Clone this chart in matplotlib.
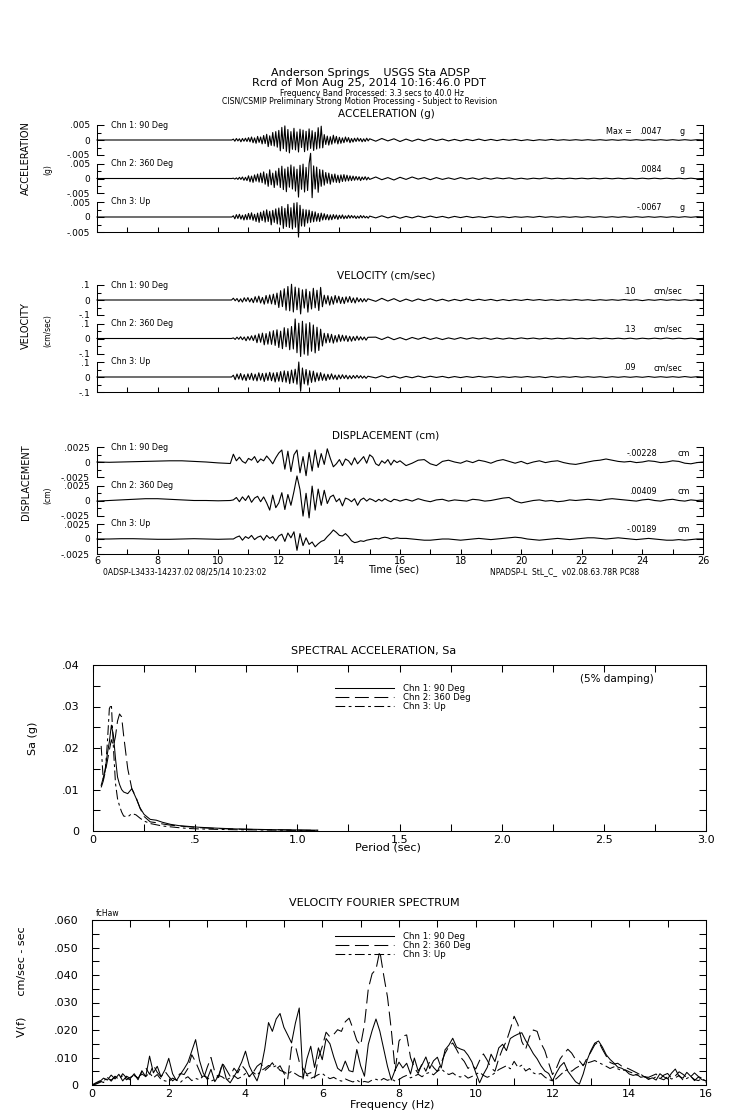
import numpy as np
import matplotlib.pyplot as plt
from matplotlib.ticker import MultipleLocator, FixedLocator
from matplotlib.lines import Line2D

plt.rcParams['font.family'] = ['DejaVu Sans']
plt.rcParams['axes.linewidth'] = 0.75
plt.rcParams['lines.scale_dashes'] = False

# ---------------- data ----------------
channels = ["Chn 1: 90 Deg", "Chn 2: 360 Deg", "Chn 3: Up"]

# acceleration, units of 0.001 g
acc_t_pre = [6.0, 10.45]
acc_t_act = 10.5 + 0.05 * np.arange(91)
acc_t_tail = 15.2 + 0.2 * np.arange(55)
acc_pre = [0.0, 0.0]
acc1_act = [0.3,-0.4,0.5,-0.3,0.4,-0.6,0.5,-0.4,0.6,-0.5,
            0.8,-0.6,1.0,-0.9,0.7,-1.1,1.2,-0.8,1.0,-1.3,
            1.5,-1.2,1.9,-2.2,1.4,-1.8,2.5,-2.0,2.8,-2.4,
            3.2,-3.6,4.2,-2.9,4.7,-3.8,3.5,-4.3,2.8,-3.1,
            3.9,-3.3,2.7,-4.0,3.6,-2.5,3.3,-3.9,2.9,-3.4,
            3.7,-2.8,3.1,-3.5,2.6,-3.0,4.1,-2.7,4.6,-2.6,
            1.8,-1.5,1.3,-1.7,1.1,-1.4,1.6,-1.0,1.2,-1.3,
            0.9,-1.1,0.7,-0.9,1.0,-0.6,0.8,-0.9,0.5,-0.7,
            0.6,-0.5,0.7,-0.4,0.5,-0.6,0.4,-0.5,0.6,-0.3,0.4]
acc2_act = [0.1,-0.2,0.2,-0.3,0.4,-0.3,0.5,-0.6,0.4,-0.7,
            0.9,-1.1,0.8,-1.3,1.2,-0.9,1.5,-1.2,1.8,-1.4,
            2.2,-1.9,1.6,-2.6,2.9,-2.1,1.8,-3.0,2.5,-2.2,
            3.4,-3.0,4.1,-3.7,3.2,-4.4,3.8,-2.9,4.5,-3.5,
            3.9,-4.2,3.1,-6.2,4.4,-3.6,4.8,-4.5,3.7,-4.0,
            5.0,8.4,-6.4,4.2,-3.5,3.8,-4.6,3.0,-2.6,2.8,
            -2.2,2.0,-1.6,1.8,-1.9,1.4,-1.2,1.5,-1.3,1.1,
            -1.4,1.2,-1.0,1.3,-0.9,1.1,-0.8,0.9,-0.7,0.8,
            -0.6,0.7,-0.5,0.6,-0.7,0.5,-0.4,0.6,-0.5,0.4,-0.3]
acc3_act = [0.4,-0.6,0.8,-0.5,0.9,-0.7,0.6,-1.0,0.8,-0.9,
            1.2,-0.8,1.4,-1.1,0.9,-1.5,1.3,-1.8,1.6,-1.2,
            2.0,-1.7,2.4,-1.5,1.9,-2.6,2.2,-1.8,2.7,-2.3,
            3.0,-2.6,3.5,-3.8,2.9,-3.2,4.2,-3.5,3.1,-4.0,
            4.6,-3.4,4.8,-6.7,3.9,-3.0,2.6,-3.1,2.4,-2.0,
            2.3,-1.8,1.9,-1.6,1.7,-1.4,1.2,-1.5,1.3,-1.0,
            1.1,-0.9,0.8,-1.0,0.7,-0.9,0.8,-0.6,0.7,-0.8,
            0.6,-0.5,0.7,-0.6,0.4,-0.5,0.6,-0.4,0.5,-0.3,
            0.4,-0.5,0.3,-0.4,0.5,-0.3,0.4,-0.3,0.2,-0.4,0.3]
acc1_tail = [-0.4,0.5,-0.3,0.4,-0.5,0.3,-0.4,0.3,-0.3,0.4,
             -0.2,0.3,-0.3,0.2,-0.3,0.2,-0.2,0.3,-0.2,0.2,
             -0.2,0.2,-0.1,0.2,-0.2,0.1,-0.2,0.1,-0.1,0.2,
             -0.1,0.1,-0.1,0.1,-0.1,0.1,-0.1,0.1,-0.1,0.1,
             -0.1,0.1,-0.1,0.1,-0.1,0.1,-0.1,0.1,-0.1,0.1,
             -0.1,0.1,-0.1,0.1,0.0]
acc2_tail = [0.5,-0.4,0.3,-0.5,0.4,-0.3,0.5,-0.2,0.3,-0.4,
             0.3,-0.3,0.2,-0.3,0.3,-0.2,0.2,-0.3,0.2,-0.2,
             0.2,-0.1,0.2,-0.2,0.1,-0.2,0.1,-0.1,0.2,-0.1,
             0.1,-0.1,0.1,-0.1,0.1,-0.1,0.1,-0.1,0.1,-0.1,
             0.1,-0.1,0.1,-0.1,0.1,-0.1,0.1,-0.1,0.1,-0.1,
             0.1,-0.1,0.1,-0.1,0.0]
acc3_tail = [-0.3,0.4,-0.3,0.3,-0.4,0.2,-0.3,0.3,-0.2,0.3,
             -0.2,0.2,-0.3,0.2,-0.2,0.2,-0.2,0.1,-0.2,0.2,
             -0.1,0.1,-0.2,0.1,-0.1,0.1,-0.1,0.2,-0.1,0.1,
             -0.1,0.1,-0.1,0.1,-0.1,0.1,-0.1,0.1,-0.1,0.1,
             -0.1,0.1,-0.1,0.1,-0.1,0.1,-0.1,0.1,-0.1,0.1,
             -0.1,0.1,-0.1,0.1,0.0]
acc_peaks = [".0047", ".0084", "-.0067"]

# velocity, units of 0.01 cm/sec
vel_t_pre = [6.0, 10.44]
vel_t_act = 10.5 + 0.06 * np.arange(75)
vel_t_tail = 15.2 + 0.2 * np.arange(55)
vel_pre = [0.0, 0.0]
vel1_act = [1.2,-0.5,1.0,-1.2,0.8,-1.4,1.5,-0.9,1.6,-1.3,
            1.1,-1.8,2.2,-1.5,2.6,-2.0,1.7,-2.8,3.0,-2.2,
            3.4,-2.6,3.9,-3.1,4.6,-5.0,6.2,-4.4,7.5,-6.8,
            9.0,-7.2,10.5,-8.0,8.6,-6.5,7.9,-9.3,6.8,-5.4,
            7.2,-8.1,5.6,-6.0,7.8,-5.2,6.5,-7.0,8.4,-4.5,
            3.2,-2.6,2.9,-3.4,2.2,-2.8,3.0,-1.9,2.5,-2.3,
            1.8,-2.4,2.1,-1.5,2.3,-1.7,1.4,-2.0,1.6,-1.2,
            1.0,-1.3,0.9,-1.1,0.8]
vel2_act = [0.4,-0.6,0.9,-0.5,1.2,-0.8,1.0,-1.5,1.3,-1.1,
            1.8,-1.4,2.2,-2.8,3.1,-2.5,3.6,-4.2,3.3,-3.8,
            4.5,-3.9,5.2,-4.6,5.8,-6.0,4.9,-6.8,7.2,-5.5,
            6.6,-7.5,8.0,-7.0,13.0,-9.5,10.2,-12.0,11.5,-10.4,
            9.8,-11.2,10.6,-8.5,9.0,-9.6,7.5,-8.0,6.2,-5.0,
            3.5,-3.0,3.3,-2.6,2.8,-3.1,2.0,-2.4,2.6,-1.9,
            2.2,-1.6,1.9,-2.0,1.5,-1.8,1.3,-1.4,1.6,-1.1,
            1.2,-0.9,1.0,-1.1,0.8]
vel3_act = [1.2,-1.8,2.0,-1.4,2.3,-2.0,1.6,-2.4,2.1,-1.7,
            2.5,-2.2,1.9,-2.6,2.8,-2.1,2.4,-3.0,2.6,-2.3,
            3.1,-2.5,2.7,-3.3,3.0,-2.8,3.6,-3.2,4.1,-3.5,
            3.8,-4.4,4.6,-3.9,5.2,-4.8,10.0,-9.5,6.0,-4.6,
            5.0,-5.4,4.2,-3.6,3.9,-3.2,2.8,-2.5,2.9,-2.2,
            2.0,-2.4,1.8,-1.6,2.1,-1.5,1.3,-1.8,1.4,-1.2,
            1.5,-1.0,1.2,-1.3,0.9,-1.1,1.0,-0.8,1.1,-0.7,
            0.9,-0.8,0.6,-0.9,0.5]
vel1_tail = [-0.9,1.1,-0.7,0.9,-1.0,0.6,-0.8,0.7,-0.5,0.8,
             -0.6,0.5,-0.7,0.4,-0.5,0.6,-0.4,0.5,-0.3,0.4,
             -0.5,0.3,-0.4,0.3,-0.3,0.4,-0.2,0.3,-0.3,0.2,
             -0.3,0.2,-0.2,0.3,-0.2,0.2,-0.3,0.2,-0.2,0.2,
             -0.2,0.3,-0.2,0.2,-0.4,0.2,-0.2,0.3,-0.2,0.2,
             -0.2,0.2,-0.3,0.2,-0.1]
vel2_tail = [0.9,-0.7,1.0,-0.8,0.6,-0.9,0.7,-0.5,0.8,-0.6,
             0.5,-0.7,0.4,-0.5,0.6,-0.4,0.5,-0.3,0.4,-0.5,
             0.3,-0.4,0.3,-0.3,0.4,-0.2,0.3,-0.3,0.2,-0.3,
             0.2,-0.2,0.3,-0.2,0.2,-0.2,0.3,-0.2,0.2,-0.2,
             0.2,-0.2,0.2,-0.3,0.2,-0.2,0.2,-0.2,0.3,-0.2,
             0.2,-0.2,0.2,-0.2,0.1]
vel3_tail = [-0.6,0.8,-0.5,0.6,-0.7,0.4,-0.5,0.6,-0.4,0.5,
             -0.3,0.4,-0.5,0.3,-0.4,0.3,-0.3,0.4,-0.2,0.3,
             -0.3,0.2,-0.3,0.2,-0.2,0.3,-0.2,0.2,-0.4,0.3,
             -0.2,0.2,-0.2,0.3,-0.2,0.2,-0.2,0.2,-0.3,0.2,
             -0.2,0.2,-0.2,0.2,-0.2,0.3,-0.2,0.2,-0.2,0.2,
             -0.2,0.3,-0.2,0.2,-0.1]
vel_peaks = [".10", ".13", ".09"]

# displacement, units of 0.001 cm
disp_t_pre = 6.0 + 0.4 * np.arange(12)
disp_t_act = 10.5 + 0.1 * np.arange(56)
disp_t_tail = 16.2 + 0.2 * np.arange(50)
disp1_pre = [0.0,-0.05,0.0,0.05,0.1,0.15,0.2,0.2,0.1,0.0,-0.15,-0.25]
disp2_pre = [-0.1,0.0,0.1,0.2,0.3,0.3,0.2,0.1,0.0,0.0,-0.05,0.0]
disp3_pre = [0.0,0.0,0.05,0.05,0.0,-0.05,-0.05,0.0,0.05,0.0,-0.05,0.0]
disp1_act = [1.3,0.2,0.8,0.1,-0.2,0.6,0.3,0.9,-0.1,0.5,
             0.2,1.0,0.4,-0.3,0.7,1.5,2.0,-1.2,1.8,-1.6,
             1.2,2.0,-1.8,0.9,-2.28,1.6,-1.5,2.0,-0.9,1.4,
             -0.4,2.2,0.6,-0.8,-0.3,0.4,-0.6,0.5,0.2,-0.5,
             0.7,-0.3,0.3,0.9,-0.2,1.2,0.8,-0.3,-0.6,0.2,
             -0.2,0.4,-0.5,0.3,-0.1,0.2]
disp2_act = [0.1,0.5,-0.2,0.6,0.0,0.8,-0.3,0.4,0.7,-0.2,
             0.6,-0.4,-1.6,0.9,-1.2,-0.4,1.3,-1.5,1.0,-0.8,
             1.5,4.09,1.8,-2.6,1.2,-2.9,2.4,-1.6,1.9,-0.8,
             1.7,-0.5,0.6,0.9,-0.2,0.3,-0.9,0.4,0.2,-0.2,
             0.3,-0.8,0.1,0.4,-0.1,0.3,0.1,-0.2,0.2,-0.1,
             0.3,0.0,-0.2,0.2,0.1,-0.1]
disp3_act = [0.0,0.3,0.5,-0.2,0.4,0.1,0.6,-0.1,0.3,0.5,
             -0.2,0.6,0.1,0.4,-0.3,0.5,0.8,-0.4,1.0,0.2,
             1.2,-1.89,0.9,-1.1,0.2,-0.9,-0.5,-1.3,-0.8,-0.4,
             -0.2,0.4,0.9,1.5,1.1,0.6,0.5,0.9,0.4,-0.3,
             -0.6,-0.5,-0.3,-0.4,-0.2,-0.1,0.0,0.1,0.0,0.2,
             0.3,0.2,0.0,0.1,0.2,0.1]
disp1_tail = [-0.6,-0.2,0.3,0.4,-0.3,-0.6,0.1,0.3,0.0,-0.2,
              0.2,-0.1,0.3,0.1,-0.2,0.2,0.4,0.1,-0.2,0.1,
              -0.3,0.0,0.2,-0.1,0.1,0.2,-0.1,-0.3,-0.4,-0.2,
              0.0,0.2,0.3,0.5,0.3,0.1,0.0,0.1,-0.1,0.0,
              0.2,0.1,-0.1,0.0,0.2,0.1,-0.2,-0.3,-0.1,0.0]
disp2_tail = [0.2,-0.1,0.3,0.0,-0.2,0.1,0.2,-0.1,0.1,0.0,
              -0.1,0.2,0.1,-0.1,0.0,0.2,0.4,0.5,-0.1,-0.4,
              -0.2,0.0,0.1,-0.1,0.0,-0.2,-0.1,0.1,0.0,0.1,
              0.2,0.1,0.0,0.2,0.3,0.2,0.1,0.0,-0.1,0.1,
              0.2,0.0,-0.1,0.1,0.2,0.0,-0.1,0.1,0.0,0.1]
disp3_tail = [0.1,0.0,-0.1,-0.2,-0.2,-0.1,0.0,0.0,-0.1,-0.2,
              -0.1,0.0,0.1,0.0,-0.1,0.0,0.1,0.2,0.3,0.2,
              0.0,-0.1,-0.2,-0.1,0.0,0.1,0.0,-0.1,0.0,0.1,
              0.2,0.2,0.1,0.0,0.1,0.2,0.1,0.0,-0.1,0.0,
              0.1,0.0,-0.1,-0.2,-0.2,-0.1,-0.2,-0.1,0.0,0.0]
disp_peaks = ["-.00228", ".00409", "-.00189"]

# spectral acceleration (5% damping), Sa in units of 0.001 g
sa_period = [0.04,0.05,0.06,0.07,0.08,0.09,0.10,0.11,0.12,0.13,
             0.14,0.15,0.17,0.19,0.21,0.23,0.25,0.28,0.31,0.34,
             0.38,0.42,0.47,0.52,0.60,0.70,0.80,0.90,1.00,1.10]
sa1 = [11.0,12.8,15.0,18.5,21.5,25.5,23.0,17.5,13.0,11.2,
       10.0,9.4,9.0,10.2,8.0,5.6,4.0,2.8,2.6,2.1,
       1.6,1.3,1.1,0.9,0.7,0.5,0.4,0.3,0.25,0.2]
sa2 = [10.5,12.0,14.2,16.8,19.5,22.0,20.5,22.8,26.5,28.2,
       27.5,23.0,15.0,10.2,8.2,5.5,3.5,2.2,2.0,1.7,
       1.4,1.2,1.0,0.8,0.6,0.45,0.35,0.3,0.2,0.15]
sa3 = [20.5,12.5,14.5,21.0,29.5,30.5,20.0,11.5,7.8,6.0,
       4.6,3.6,3.4,4.2,3.9,3.1,2.4,1.8,1.5,1.2,
       1.0,0.8,0.6,0.5,0.4,0.3,0.25,0.2,0.15,0.1]
sa_xticks = [0.0, 0.5, 1.0, 1.5, 2.0, 2.5, 3.0]
sa_xlabels = ["0", ".5", "1.0", "1.5", "2.0", "2.5", "3.0"]
sa_yticks = [0.0, 0.01, 0.02, 0.03, 0.04]
sa_ylabels = ["0", ".01", ".02", ".03", ".04"]

# velocity fourier spectrum, units of 0.001 cm/sec-sec, every 0.1 Hz
fs_freq = 0.1 * np.arange(161)
fs1 = [0.0,0.5,1.2,2.5,1.8,3.6,2.2,3.9,1.5,3.2,
       2.4,4.1,1.9,5.2,3.0,10.5,4.4,6.8,2.9,5.5,
       9.7,4.1,1.6,3.8,5.9,8.2,12.4,16.5,9.0,4.3,
       2.1,5.7,1.2,3.5,7.6,2.2,0.8,3.1,5.4,8.3,
       12.3,6.9,4.0,1.5,5.8,13.0,22.7,19.5,24.0,26.0,
       21.0,18.2,15.3,22.5,28.0,2.2,9.5,14.1,6.4,13.5,
       9.2,16.9,15.0,10.2,6.1,5.0,8.7,5.2,4.8,12.9,
       7.0,3.2,14.8,19.8,24.0,19.6,13.2,6.8,1.8,5.5,
       8.3,6.2,7.9,4.0,9.8,5.1,7.3,10.2,6.0,8.8,
       10.1,6.2,12.8,14.5,17.0,13.8,13.1,12.6,10.8,8.4,
       4.5,0.8,3.9,6.4,11.2,8.5,13.5,14.8,12.5,16.9,
       17.8,18.5,19.0,16.2,13.9,11.4,9.5,7.0,5.1,4.2,
       1.5,4.4,6.8,8.2,5.0,3.1,1.2,0.3,4.0,9.0,
       12.5,15.2,16.0,13.8,11.0,9.3,8.0,6.5,6.1,5.3,
       4.0,3.5,3.8,2.8,3.1,2.0,2.6,1.8,4.1,3.0,
       2.2,4.3,5.8,3.1,2.5,4.6,3.2,1.6,2.9,1.9,
       1.5]
fs2 = [0.0,0.8,1.5,0.9,2.8,1.4,3.2,2.0,4.1,2.6,
       1.8,3.5,2.4,4.8,6.3,3.9,7.2,4.6,3.0,5.0,
       3.1,1.5,2.6,4.2,3.8,6.0,11.0,8.4,5.1,2.0,
       6.3,10.0,4.8,2.7,8.0,5.6,3.2,6.1,4.4,7.2,
       5.5,3.0,4.6,6.8,7.9,5.2,6.4,8.1,5.8,7.0,
       4.3,2.1,13.8,14.2,8.5,6.0,3.9,4.5,2.6,9.8,
       14.0,19.2,17.5,18.4,20.1,19.5,23.0,24.3,20.5,16.2,
       14.5,22.0,35.0,40.5,42.0,48.8,40.0,32.0,20.0,5.2,
       16.0,17.8,18.2,10.0,6.3,4.2,7.8,5.0,8.6,6.4,
       4.9,8.1,11.5,14.0,15.3,12.9,10.2,8.6,6.0,7.3,
       5.8,8.9,11.3,9.0,6.2,5.0,9.6,13.2,16.0,20.3,
       25.0,22.0,15.8,13.0,17.5,20.0,19.5,15.2,12.5,8.0,
       3.8,6.1,9.5,11.4,13.0,11.6,9.3,8.8,7.0,9.8,
       12.0,14.6,15.8,13.0,10.5,8.2,7.6,7.9,6.9,6.4,
       5.8,5.1,4.4,3.6,3.0,2.8,3.4,4.0,2.2,3.6,
       4.2,2.5,3.3,4.8,3.9,2.7,3.0,4.4,3.1,2.4,
       1.0]
fs3 = [0.0,0.3,0.9,1.6,2.4,1.8,3.0,2.2,3.4,1.9,
       2.8,3.6,2.5,4.0,3.1,4.4,2.6,3.8,2.0,1.5,
       1.2,2.5,1.8,0.9,2.2,3.0,1.6,2.4,1.9,3.3,
       2.8,1.4,2.0,3.5,2.9,1.8,2.6,3.4,2.3,3.0,
       4.2,3.1,4.6,3.5,5.2,6.0,7.1,6.4,7.0,5.3,
       4.8,3.9,5.0,4.1,3.2,2.8,3.6,2.4,3.0,3.8,
       4.2,3.1,2.3,2.8,1.9,1.4,2.2,1.6,1.1,1.8,
       0.9,1.3,1.0,1.8,2.1,1.5,2.4,1.7,2.2,1.4,
       2.0,2.9,3.5,2.6,3.2,3.9,3.0,4.1,4.6,3.7,
       5.0,5.9,4.6,3.8,4.4,3.3,2.9,3.6,2.5,3.1,
       3.9,4.6,3.5,2.8,3.4,4.4,5.6,6.3,7.0,5.9,
       8.6,6.4,7.2,5.1,6.0,4.4,3.8,4.2,2.9,2.0,
       1.5,2.3,3.6,4.9,5.7,5.0,6.1,6.9,7.4,8.0,
       8.4,8.9,8.2,7.5,6.8,6.0,6.6,5.9,5.2,5.5,
       4.8,4.3,3.6,3.9,2.9,2.5,2.2,3.0,2.4,1.9,
       3.0,2.2,2.6,3.5,1.8,2.4,3.1,2.0,1.6,2.3,
       1.4]
fs_xticks = [0, 2, 4, 6, 8, 10, 12, 14, 16]
fs_yticks = [0.0, 0.01, 0.02, 0.03, 0.04, 0.05, 0.06]
fs_ylabels = ["0", ".010", ".020", ".030", ".040", ".050", ".060"]

# ---------------- layout helpers ----------------
W, H = 739, 1115
fig = plt.figure(figsize=(W / 100, H / 100), dpi=100)


def rect(x0, y0, x1, y1):
    return [x0 / W, 1 - y1 / H, (x1 - x0) / W, (y1 - y0) / H]


def ftext(x, y, s, **kw):
    kw.setdefault('ha', 'center')
    kw.setdefault('va', 'center')
    fig.text(x / W, 1 - y / H, s, **kw)


styles = ['-', (0, (10, 4)), (0, (7, 2.5, 2, 2.5))]

# ---------------- header ----------------
ftext(370, 73, "Anderson Springs    USGS Sta ADSP", fontsize=8)
ftext(369, 83, "Rcrd of Mon Aug 25, 2014 10:16:46.0 PDT", fontsize=8)
ftext(372, 93, "Frequency Band Processed: 3.3 secs to 40.0 Hz", fontsize=5.6)
ftext(360, 101, "CISN/CSMIP Preliminary Strong Motion Processing - Subject to Revision", fontsize=5.6)

# ---------------- time series groups ----------------
groups = [
    dict(title="ACCELERATION (g)", title_y=114, side="ACCELERATION", side_y=158,
         unit="(g)", unit_y=170, zeros=[140, 178.5, 217], amp=5.0, scale=1e-3,
         ticks=["-.005", "0", ".005"], peaks=acc_peaks, peak_unit="g",
         val_x=662, unit_x=680,
         t=[acc_t_pre, acc_t_act, acc_t_tail],
         data=[[acc_pre, acc1_act, acc1_tail], [acc_pre, acc2_act, acc2_tail],
               [acc_pre, acc3_act, acc3_tail]]),
    dict(title="VELOCITY (cm/sec)", title_y=275, side="VELOCITY", side_y=326,
         unit="(cm/sec)", unit_y=331, zeros=[300, 338.5, 377], amp=10.0, scale=1e-2,
         ticks=["-.1", "0", ".1"], peaks=vel_peaks, peak_unit="cm/sec",
         val_x=636, unit_x=653,
         t=[vel_t_pre, vel_t_act, vel_t_tail],
         data=[[vel_pre, vel1_act, vel1_tail], [vel_pre, vel2_act, vel2_tail],
               [vel_pre, vel3_act, vel3_tail]]),
    dict(title="DISPLACEMENT (cm)", title_y=436, side="DISPLACEMENT", side_y=482,
         unit="(cm)", unit_y=495, zeros=[462, 500.5, 539], amp=2.5, scale=1e-3,
         ticks=["-.0025", "0", ".0025"], peaks=disp_peaks, peak_unit="cm",
         val_x=657, unit_x=678,
         t=[disp_t_pre, disp_t_act, disp_t_tail],
         data=[[disp1_pre, disp1_act, disp1_tail], [disp2_pre, disp2_act, disp2_tail],
               [disp3_pre, disp3_act, disp3_tail]]),
]

for g_i, g in enumerate(groups):
    ftext(386, g['title_y'], g['title'], fontsize=7.5)
    ftext(26, g['side_y'], g['side'], fontsize=7, rotation=90)
    ftext(48, g['unit_y'], g['unit'], fontsize=5.5, rotation=90)
    t_all = np.concatenate(g['t'])
    A = g['amp'] * g['scale']
    for k, z in enumerate(g['zeros']):
        last = k == 2
        ax = fig.add_axes(rect(97, z - 15, 703, z + 15))
        ax.patch.set_alpha(0)
        vals = np.concatenate([np.asarray(p, float) for p in g['data'][k]]) * g['scale']
        ax.plot(t_all, vals, color='black', lw=0.8, clip_on=False)
        ax.set_xlim(6, 26)
        ax.set_ylim(-A, A)
        ax.spines['top'].set_visible(False)
        ax.spines['bottom'].set_visible(last)
        ax.set_yticks([-A, 0, A])
        ax.set_yticklabels(g['ticks'])
        ax.yaxis.set_minor_locator(FixedLocator([-A / 2, A / 2]))
        ax.tick_params(axis='y', which='major', direction='in', left=True, right=True,
                       length=5, width=0.75, labelsize=6.5, pad=5)
        ax.tick_params(axis='y', which='minor', direction='in', left=True, right=True,
                       length=3, width=0.75)
        if last:
            ax.xaxis.set_major_locator(MultipleLocator(2))
            ax.xaxis.set_minor_locator(MultipleLocator(1))
            ax.tick_params(axis='x', which='both', direction='in', length=3.5,
                           width=0.75, labelsize=7, pad=1.5,
                           labelbottom=(g_i == 2))
        else:
            ax.tick_params(axis='x', which='both', bottom=False, labelbottom=False)
        ftext(111, z - 15, channels[k], fontsize=5.8, ha='left')
        ftext(g['val_x'], z - 9, g['peaks'][k], fontsize=5.8, ha='right')
        ftext(g['unit_x'], z - 9, g['peak_unit'], fontsize=5.8, ha='left')
        if g_i == 0 and k == 0:
            ftext(606, z - 9, "Max =", fontsize=5.8, ha='left')

ftext(394, 569, "Time (sec)", fontsize=7)
ftext(103, 572, "0ADSP-L3433-14237.02 08/25/14 10:23:02", fontsize=5.5, ha='left')
ftext(490, 572, "NPADSP-L  StL_C_  v02.08.63.78R PC88", fontsize=5.5, ha='left')

# ---------------- spectral acceleration ----------------
ax = fig.add_axes(rect(93, 665, 706, 831))
for vals, ls in zip([sa1, sa2, sa3], styles):
    ax.plot(sa_period, np.asarray(vals) * 1e-3, color='black', lw=0.75, linestyle=ls)
ax.set_xlim(0, 3.0)
ax.set_ylim(0, 0.04)
ax.set_xticks(sa_xticks, labels=sa_xlabels)
ax.xaxis.set_minor_locator(MultipleLocator(0.25))
ax.set_yticks(sa_yticks, labels=sa_ylabels)
ax.yaxis.set_minor_locator(MultipleLocator(0.005))
ax.tick_params(which='both', direction='in', top=True, right=True, width=0.75)
ax.tick_params(which='major', length=5, labelsize=8, pad=3)
ax.tick_params(axis='y', which='major', pad=10)
ax.tick_params(which='minor', length=5)
ftext(374, 651, "SPECTRAL ACCELERATION, Sa", fontsize=8)
ftext(388, 848, "Period (sec)", fontsize=8)
ftext(33, 738, "Sa (g)", fontsize=8, rotation=90)
ftext(617, 679, "(5% damping)", fontsize=7.5)
handles = [Line2D([], [], color='black', lw=0.75, linestyle=ls) for ls in styles]
ax.legend(handles, channels, loc='upper left', bbox_to_anchor=(335 / W, 1 - 684 / H),
          bbox_transform=fig.transFigure, frameon=False, fontsize=6.2,
          handlelength=6.8, handletextpad=1.1, labelspacing=0.0,
          borderpad=0, borderaxespad=0)

# ---------------- velocity fourier spectrum ----------------
ax = fig.add_axes(rect(92, 920, 706, 1085))
for vals, ls in zip([fs1, fs2, fs3], styles):
    ax.plot(fs_freq, np.asarray(vals) * 1e-3, color='black', lw=0.75, linestyle=ls)
ax.set_xlim(0, 16)
ax.set_ylim(0, 0.06)
ax.set_xticks(fs_xticks, labels=[str(v) for v in fs_xticks])
ax.xaxis.set_minor_locator(MultipleLocator(1))
ax.set_yticks(fs_yticks, labels=fs_ylabels)
ax.yaxis.set_minor_locator(MultipleLocator(0.005))
ax.tick_params(which='both', direction='in', top=True, right=True, width=0.75)
ax.tick_params(which='major', length=5, labelsize=8, pad=3)
ax.tick_params(axis='y', which='major', pad=10)
ax.tick_params(which='minor', length=5)
ftext(374, 903, "VELOCITY FOURIER SPECTRUM", fontsize=8)
ftext(392, 1105, "Frequency (Hz)", fontsize=8)
ftext(22, 982, "V(f)      cm/sec - sec", fontsize=8, rotation=90)
ftext(96, 913, "fcHaw", fontsize=5.5, ha='left')
ax.legend(handles, channels, loc='upper left', bbox_to_anchor=(335 / W, 1 - 932 / H),
          bbox_transform=fig.transFigure, frameon=False, fontsize=6.2,
          handlelength=6.8, handletextpad=1.1, labelspacing=0.0,
          borderpad=0, borderaxespad=0)

fig.savefig("out.png", dpi=100)
